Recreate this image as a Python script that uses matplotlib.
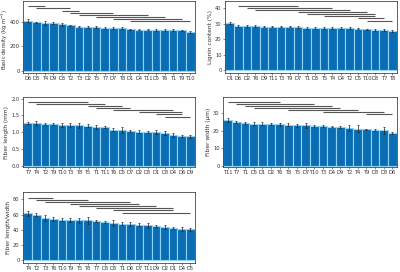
import matplotlib.pyplot as plt
import numpy as np

# ---- data ----
bd_labels = ['D6', 'D8', 'T4', 'D9', 'D3', 'T2', 'T3', 'D2', 'T5', 'T7',
             'D7', 'T8', 'D1', 'D4', 'T11', 'D5', 'T6', 'T1', 'T9', 'T10']
bd_values = [410, 395, 392, 388, 380, 372, 360, 358, 357, 350,
             350, 350, 338, 337, 337, 335, 334, 334, 330, 318]
bd_err = [10, 6, 16, 8, 12, 6, 6, 10, 8, 12, 10, 12, 5, 6, 6, 6, 8, 8, 6, 6]
bd_groups = [(0, 2), (1, 5), (4, 6), (5, 10), (6, 14), (8, 16), (10, 18), (12, 19)]
bd_group_y = [528, 515, 493, 475, 456, 440, 424, 408]

lc_labels = ['D1', 'D6', 'D2', 'T6', 'D9', 'T11', 'T3', 'T9', 'D7', 'T1',
             'D8', 'T5', 'T4', 'D4', 'T2', 'D5', 'T10', 'D3', 'T7', 'T8']
lc_values = [30.5, 28.8, 28.5, 28.4, 28.3, 28.2, 28.2, 28.2, 28.0, 27.6,
             27.5, 27.4, 27.3, 27.2, 27.1, 27.0, 26.5, 26.3, 25.9, 25.5]
lc_err = [0.5, 0.8, 0.5, 0.6, 0.4, 0.4, 0.4, 0.5, 0.5, 0.6,
          0.5, 0.6, 0.6, 0.5, 0.7, 0.5, 0.5, 0.6, 0.5, 0.6]
lc_groups = [(1, 8), (2, 12), (3, 14), (8, 16), (9, 17), (11, 17), (15, 18), (16, 19)]
lc_group_y = [41.5, 40.4, 38.9, 37.4, 36.2, 34.9, 33.6, 31.9]

fl_labels = ['T7', 'T4', 'T2', 'T9', 'T10', 'T3', 'T8', 'T5', 'T1', 'T11',
             'T6', 'D5', 'D7', 'D2', 'D8', 'D1', 'D3', 'D4', 'D6', 'D9']
fl_values = [1.28, 1.27, 1.26, 1.25, 1.22, 1.21, 1.21, 1.20, 1.17, 1.17,
             1.08, 1.07, 1.04, 1.02, 1.02, 1.01, 0.98, 0.91, 0.90, 0.88]
fl_err = [0.03, 0.06, 0.03, 0.04, 0.05, 0.06, 0.08, 0.05, 0.06, 0.03,
          0.04, 0.08, 0.03, 0.05, 0.03, 0.05, 0.06, 0.06, 0.03, 0.04]
fl_groups = [(0, 7), (1, 9), (7, 11), (8, 12), (10, 17), (13, 18), (15, 18), (16, 19)]
fl_group_y = [1.90, 1.84, 1.79, 1.72, 1.65, 1.59, 1.53, 1.47]

fw_labels = ['T11', 'T7', 'T1', 'D5', 'D1', 'D2', 'T6', 'T8', 'T5', 'D7',
             'T10', 'T3', 'D4', 'D9', 'T2', 'T4', 'T9', 'D8', 'D3', 'D6']
fw_values = [26.2, 25.3, 24.5, 24.2, 24.0, 23.9, 23.8, 23.5, 23.2, 23.1,
             23.0, 22.6, 22.5, 22.0, 21.6, 21.3, 20.8, 20.6, 20.4, 18.9]
fw_err = [1.2, 0.6, 0.8, 0.7, 0.9, 0.5, 0.9, 0.8, 1.0, 1.5,
          0.6, 0.5, 0.5, 0.6, 1.5, 2.2, 0.5, 0.6, 2.0, 0.6]
fw_groups = [(0, 6), (1, 10), (2, 12), (3, 13), (7, 15), (11, 18), (16, 19)]
fw_group_y = [36.6, 35.5, 34.3, 33.4, 32.1, 30.9, 29.6]

lw_labels = ['T4', 'T2', 'T3', 'T6', 'T10', 'T9', 'T5', 'T8', 'T7', 'D8',
             'D3', 'T1', 'D6', 'D7', 'T11', 'D9', 'D2', 'D1', 'D4', 'D5']
lw_values = [61.5, 60.0, 55.0, 54.0, 53.5, 53.0, 52.5, 52.5, 51.5, 50.5,
             49.5, 48.0, 48.0, 46.5, 46.0, 45.5, 44.0, 42.5, 41.0, 40.5]
lw_err = [3.0, 2.0, 4.0, 2.5, 2.0, 2.5, 3.5, 4.5, 1.5, 1.5,
          4.0, 2.0, 2.5, 2.0, 3.0, 1.5, 2.5, 1.5, 2.5, 1.5]
lw_groups = [(0, 3), (1, 7), (2, 12), (5, 13), (6, 15), (8, 17), (10, 17), (11, 19)]
lw_group_y = [82.2, 79.6, 77.0, 74.4, 71.8, 68.7, 65.7, 62.7]

BAR = '#0a6db3'
EDGE = '#8fd3f7'
LINE = '#555555'


def draw_panel(ax, labels, values, err, groups, group_y, ylabel, ylim, yticks, yticklabels=None):
    x = np.arange(len(labels))
    ax.bar(x, values, width=1.0, color=BAR, edgecolor=EDGE, linewidth=0.8, zorder=2)
    ax.errorbar(x, values, yerr=err, fmt='none', ecolor='#222222', elinewidth=0.5,
                capsize=1.0, capthick=0.5, zorder=3)
    for (a, b), gy in zip(groups, group_y):
        ax.plot([x[a], x[b]], [gy, gy], color=LINE, linewidth=0.8, solid_capstyle='butt', zorder=3)
    ax.set_xlim(-0.55, len(labels) - 0.45)
    ax.set_ylim(*ylim)
    ax.set_xticks(x)
    ax.set_xticklabels(labels)
    ax.set_yticks(yticks)
    if yticklabels is not None:
        ax.set_yticklabels(yticklabels)
    ax.set_ylabel(ylabel, fontsize=4.2, color='#333333', labelpad=1.5)
    ax.tick_params(axis='both', labelsize=3.7, length=1.5, width=0.4, pad=1, colors='#333333')
    for s in ax.spines.values():
        s.set_linewidth(0.5)
        s.set_color('#222222')


fig = plt.figure(figsize=(4.0, 2.72), dpi=100)

ax1 = fig.add_axes([0.0575, 0.732, 0.43, 0.263])
draw_panel(ax1, bd_labels, bd_values, bd_err, bd_groups, bd_group_y,
           'Basic density (kg m$^{-3}$)', (-18, 568), [0, 200, 400])
ax1.yaxis.label.set_fontsize(3.8)
ax1.yaxis.set_label_coords(-0.078, 0.47)

ax2 = fig.add_axes([0.5625, 0.732, 0.43, 0.263])
draw_panel(ax2, lc_labels, lc_values, lc_err, lc_groups, lc_group_y,
           'Lignin content (%)', (-1.7, 44.6), [0, 10, 20, 30, 40])

ax3 = fig.add_axes([0.0575, 0.386, 0.43, 0.257])
draw_panel(ax3, fl_labels, fl_values, fl_err, fl_groups, fl_group_y,
           'Fiber length (mm)', (-0.04, 2.05), [0, 0.5, 1.0, 1.5, 2.0],
           ['0.0', '0.5', '1.0', '1.5', '2.0'])

ax4 = fig.add_axes([0.5575, 0.386, 0.435, 0.257])
draw_panel(ax4, fw_labels, fw_values, fw_err, fw_groups, fw_group_y,
           'Fiber width (\u03bcm)', (-0.75, 39.4), [0, 10, 20, 30])

ax5 = fig.add_axes([0.0575, 0.033, 0.43, 0.261])
draw_panel(ax5, lw_labels, lw_values, lw_err, lw_groups, lw_group_y,
           'Fiber length/width', (-3.4, 89.5), [0, 20, 40, 60, 80])

fig.savefig('out.png', dpi=100)
